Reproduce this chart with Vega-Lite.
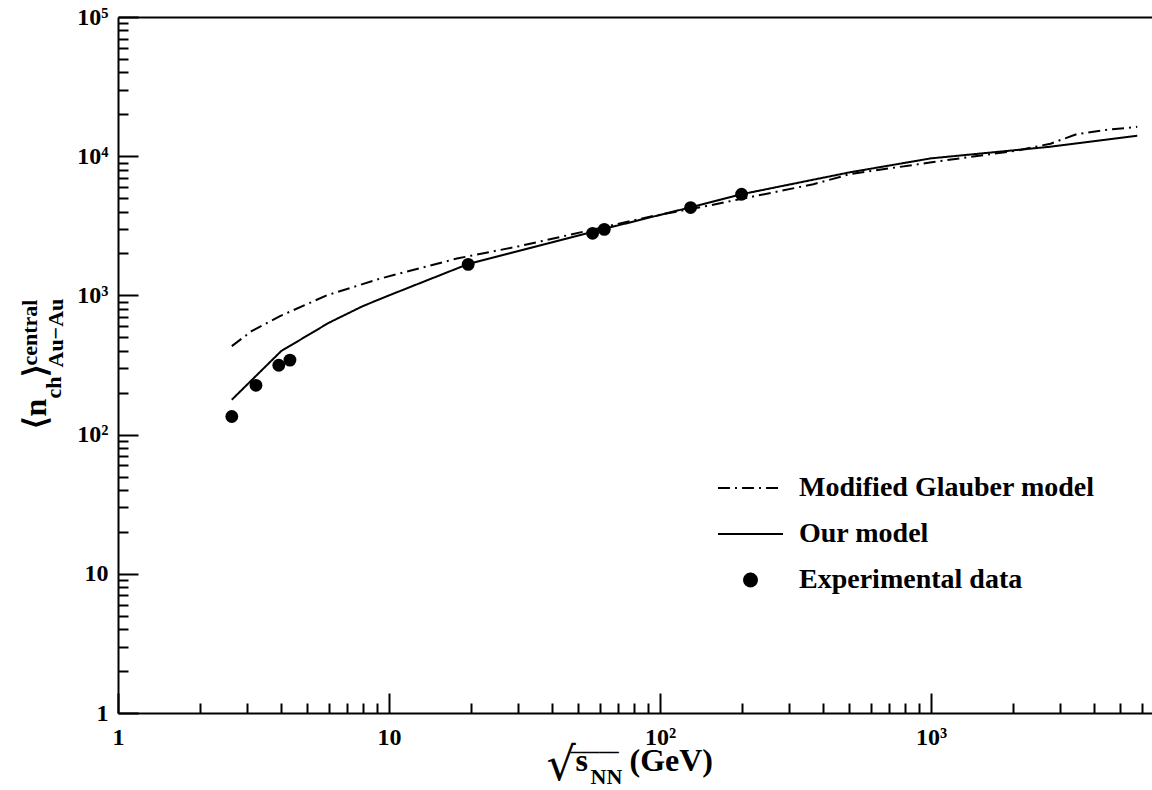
{
  "$schema": "https://vega.github.io/schema/vega-lite/v6.json",
  "width": 1034,
  "height": 696,
  "autosize": {"type": "none"},
  "padding": {"left": 118, "top": 17, "right": 0, "bottom": 77},
  "background": "white",
  "config": {
    "view": {"stroke": null},
    "axis": {
      "grid": false,
      "domainColor": "black",
      "domainWidth": 2,
      "tickColor": "black",
      "tickWidth": 2,
      "labelColor": "black",
      "labelFont": "Liberation Serif",
      "labelFontWeight": "bold",
      "labelFontSize": 24,
      "labelFlush": false,
      "labelOverlap": false,
      "labelBound": false,
      "titleColor": "black",
      "titleFont": "Liberation Serif",
      "titleFontWeight": "bold",
      "titlePadding": 0
    },
    "legend": {
      "orient": "none", "legendX": 599, "legendY": 448, "title": null,
      "labelFont": "Liberation Serif", "labelFontWeight": "bold", "labelFontSize": 28, "labelColor": "black",
      "labelLimit": 0, "clipHeight": 46, "rowPadding": 0, "padding": 0, "labelOffset": 15,
      "symbolStrokeWidth": 2, "symbolStrokeColor": "black", "symbolFillColor": "black", "symbolOpacity": 1
    }
  },
  "data": {
    "values": [
      {"series": "Modified Glauber model", "s": 2.63, "n": 432},
      {"series": "Modified Glauber model", "s": 3.11, "n": 553},
      {"series": "Modified Glauber model", "s": 3.96, "n": 710},
      {"series": "Modified Glauber model", "s": 5.89, "n": 1000},
      {"series": "Modified Glauber model", "s": 9.27, "n": 1320},
      {"series": "Modified Glauber model", "s": 17.8, "n": 1840},
      {"series": "Modified Glauber model", "s": 30.4, "n": 2262},
      {"series": "Modified Glauber model", "s": 94.5, "n": 3720},
      {"series": "Modified Glauber model", "s": 148.6, "n": 4386},
      {"series": "Modified Glauber model", "s": 368, "n": 6290},
      {"series": "Modified Glauber model", "s": 502, "n": 7430},
      {"series": "Modified Glauber model", "s": 991, "n": 9010},
      {"series": "Modified Glauber model", "s": 2070, "n": 10960},
      {"series": "Modified Glauber model", "s": 2760, "n": 12300},
      {"series": "Modified Glauber model", "s": 3445, "n": 14390},
      {"series": "Modified Glauber model", "s": 4500, "n": 15500},
      {"series": "Modified Glauber model", "s": 5770, "n": 16250},
      {"series": "Our model", "s": 2.63, "n": 178},
      {"series": "Our model", "s": 4.0, "n": 398},
      {"series": "Our model", "s": 6.0, "n": 636},
      {"series": "Our model", "s": 8.0, "n": 837},
      {"series": "Our model", "s": 10.0, "n": 1000},
      {"series": "Our model", "s": 19.6, "n": 1680},
      {"series": "Our model", "s": 62.4, "n": 3010},
      {"series": "Our model", "s": 130, "n": 4300},
      {"series": "Our model", "s": 200, "n": 5330},
      {"series": "Our model", "s": 500, "n": 7650},
      {"series": "Our model", "s": 1000, "n": 9650},
      {"series": "Our model", "s": 2760, "n": 11700},
      {"series": "Our model", "s": 5770, "n": 14030},
      {"series": "Experimental data", "s": 2.63, "n": 135},
      {"series": "Experimental data", "s": 3.23, "n": 226},
      {"series": "Experimental data", "s": 3.92, "n": 315},
      {"series": "Experimental data", "s": 4.31, "n": 343},
      {"series": "Experimental data", "s": 19.6, "n": 1671},
      {"series": "Experimental data", "s": 56.4, "n": 2793},
      {"series": "Experimental data", "s": 62.3, "n": 2982},
      {"series": "Experimental data", "s": 129.7, "n": 4276},
      {"series": "Experimental data", "s": 200, "n": 5330}
    ]
  },
  "resolve": {"axis": {"x": "independent", "y": "independent"}},
  "layer": [
    {
      "transform": [{"filter": "datum.series != 'Experimental data'"}],
      "mark": {"type": "line", "color": "black", "strokeWidth": 2},
      "encoding": {
        "x": {
          "field": "s", "type": "quantitative",
          "scale": {"type": "log", "domain": [1, 6540], "nice": false},
          "axis": {
            "orient": "bottom", "values": [1, 10, 100, 1000],
            "labelExpr": "datum.value == 1 ? '1' : datum.value == 10 ? '10' : datum.value == 100 ? '10²' : '10³'",
            "tickSize": -20, "labelPadding": 32, "labelBaseline": "top",
            "title": "s", "titleX": 457, "titleY": 57, "titleAlign": "left", "titleBaseline": "alphabetic",
            "titleAngle": 0, "titleFontSize": 32
          }
        },
        "y": {
          "field": "n", "type": "quantitative",
          "scale": {"type": "log", "domain": [1, 100000], "nice": false},
          "axis": {
            "orient": "left", "values": [1, 10, 100, 1000, 10000, 100000],
            "labelExpr": "datum.value == 1 ? '1' : datum.value == 10 ? '10' : datum.value == 100 ? '10²' : datum.value == 1000 ? '10³' : datum.value == 10000 ? '10⁴' : '10⁵'",
            "tickSize": -20, "labelPadding": 30, "labelBaseline": "middle", "labelAlign": "right",
            "title": "⟨n", "titleX": -73, "titleY": 411, "titleAngle": 270, "titleAlign": "left", "titleBaseline": "alphabetic",
            "titleFontSize": 32
          }
        },
        "strokeDash": {
          "field": "series", "type": "nominal",
          "scale": {"domain": ["Modified Glauber model", "Our model", "Experimental data"], "range": [[12, 5, 2, 5], [1, 0], [1, 0]]},
          "legend": {
            "encode": {"symbols": {"update": {"stroke": {"value": "black"}, "fill": {"value": "black"}, "strokeWidth": {"value": 2}, "opacity": {"value": 1}}}}
          }
        }
      }
    },
    {
      "transform": [{"filter": "datum.series == 'Experimental data'"}],
      "mark": {"type": "point", "filled": true, "color": "black", "opacity": 1},
      "encoding": {
        "x": {
          "field": "s", "type": "quantitative",
          "scale": {"type": "log", "domain": [1, 6540], "nice": false},
          "axis": {
            "orient": "bottom",
            "values": [2, 3, 4, 5, 6, 7, 8, 9, 20, 30, 40, 50, 60, 70, 80, 90, 200, 300, 400, 500, 600, 700, 800, 900, 2000, 3000, 4000, 5000, 6000],
            "tickSize": -10, "labels": false, "domain": false,
            "title": "NN", "titleX": 472, "titleY": 70, "titleAlign": "left", "titleBaseline": "alphabetic",
            "titleAngle": 0, "titleFontSize": 22
          }
        },
        "y": {
          "field": "n", "type": "quantitative",
          "scale": {"type": "log", "domain": [1, 100000], "nice": false},
          "axis": {
            "orient": "left",
            "values": [2, 3, 4, 5, 6, 7, 8, 9, 20, 30, 40, 50, 60, 70, 80, 90, 200, 300, 400, 500, 600, 700, 800, 900, 2000, 3000, 4000, 5000, 6000, 7000, 8000, 9000, 20000, 30000, 40000, 50000, 60000, 70000, 80000, 90000],
            "tickSize": -10, "labels": false, "domain": false,
            "title": "ch", "titleX": -58, "titleY": 381, "titleAngle": 270, "titleAlign": "left", "titleBaseline": "alphabetic",
            "titleFontSize": 22
          }
        },
        "shape": {
          "field": "series", "type": "nominal",
          "scale": {"domain": ["Modified Glauber model", "Our model", "Experimental data"], "range": ["stroke", "stroke", "circle"]},
          "legend": {
            "encode": {"symbols": {"update": {"stroke": {"value": "black"}, "fill": {"value": "black"}, "strokeWidth": {"value": 2}, "opacity": {"value": 1}}}}
          }
        },
        "size": {
          "field": "series", "type": "nominal",
          "scale": {"type": "ordinal", "domain": ["Modified Glauber model", "Our model", "Experimental data"], "range": [4225, 4225, 165]},
          "legend": {
            "encode": {"symbols": {"update": {"stroke": {"value": "black"}, "fill": {"value": "black"}, "strokeWidth": {"value": 2}, "opacity": {"value": 1}}}}
          }
        }
      }
    },
    {
      "transform": [{"filter": "false"}],
      "mark": {"type": "point"},
      "encoding": {
        "x": {
          "field": "s", "type": "quantitative",
          "scale": {"type": "log", "domain": [1, 6540], "nice": false},
          "axis": {
            "orient": "top", "ticks": false, "labels": false, "domain": true,
            "title": "─────", "titleFont": "DejaVu Sans Mono", "titleFontWeight": "normal", "titleFontSize": 16,
            "titleX": 452, "titleY": 735, "titleAlign": "left", "titleBaseline": "middle", "titleAngle": 0
          }
        },
        "y": {
          "field": "n", "type": "quantitative",
          "scale": {"type": "log", "domain": [1, 100000], "nice": false},
          "axis": {
            "orient": "left", "ticks": false, "labels": false, "domain": false,
            "title": "⟩", "titleX": -73, "titleY": 359, "titleAngle": 270, "titleAlign": "left", "titleBaseline": "alphabetic",
            "titleFontSize": 32
          }
        }
      }
    },
    {
      "transform": [{"filter": "false"}],
      "mark": {"type": "point"},
      "encoding": {
        "x": {
          "field": "s", "type": "quantitative",
          "scale": {"type": "log", "domain": [1, 6540], "nice": false},
          "axis": {
            "orient": "bottom", "ticks": false, "labels": false, "domain": false,
            "title": "(GeV)", "titleX": 511, "titleY": 57, "titleAlign": "left", "titleBaseline": "alphabetic",
            "titleAngle": 0, "titleFontSize": 32
          }
        },
        "y": {
          "field": "n", "type": "quantitative",
          "scale": {"type": "log", "domain": [1, 100000], "nice": false},
          "axis": {
            "orient": "left", "ticks": false, "labels": false, "domain": false,
            "title": "central", "titleX": -82, "titleY": 348, "titleAngle": 270, "titleAlign": "left", "titleBaseline": "alphabetic",
            "titleFontSize": 22
          }
        }
      }
    },
    {
      "transform": [{"filter": "false"}],
      "mark": {"type": "point"},
      "encoding": {
        "x": {
          "field": "s", "type": "quantitative",
          "scale": {"type": "log", "domain": [1, 6540], "nice": false},
          "axis": {
            "orient": "bottom", "ticks": false, "labels": false, "domain": false,
            "title": "√", "titleFont": "DejaVu Serif", "titleFontWeight": "normal", "titleFontSize": 46,
            "titleX": 428, "titleY": 66, "titleAlign": "left", "titleBaseline": "alphabetic", "titleAngle": 0
          }
        },
        "y": {
          "field": "n", "type": "quantitative",
          "scale": {"type": "log", "domain": [1, 100000], "nice": false},
          "axis": {
            "orient": "left", "ticks": false, "labels": false, "domain": false,
            "title": "Au−Au", "titleX": -56, "titleY": 350, "titleAngle": 270, "titleAlign": "left", "titleBaseline": "alphabetic",
            "titleFontSize": 22
          }
        }
      }
    }
  ]
}
